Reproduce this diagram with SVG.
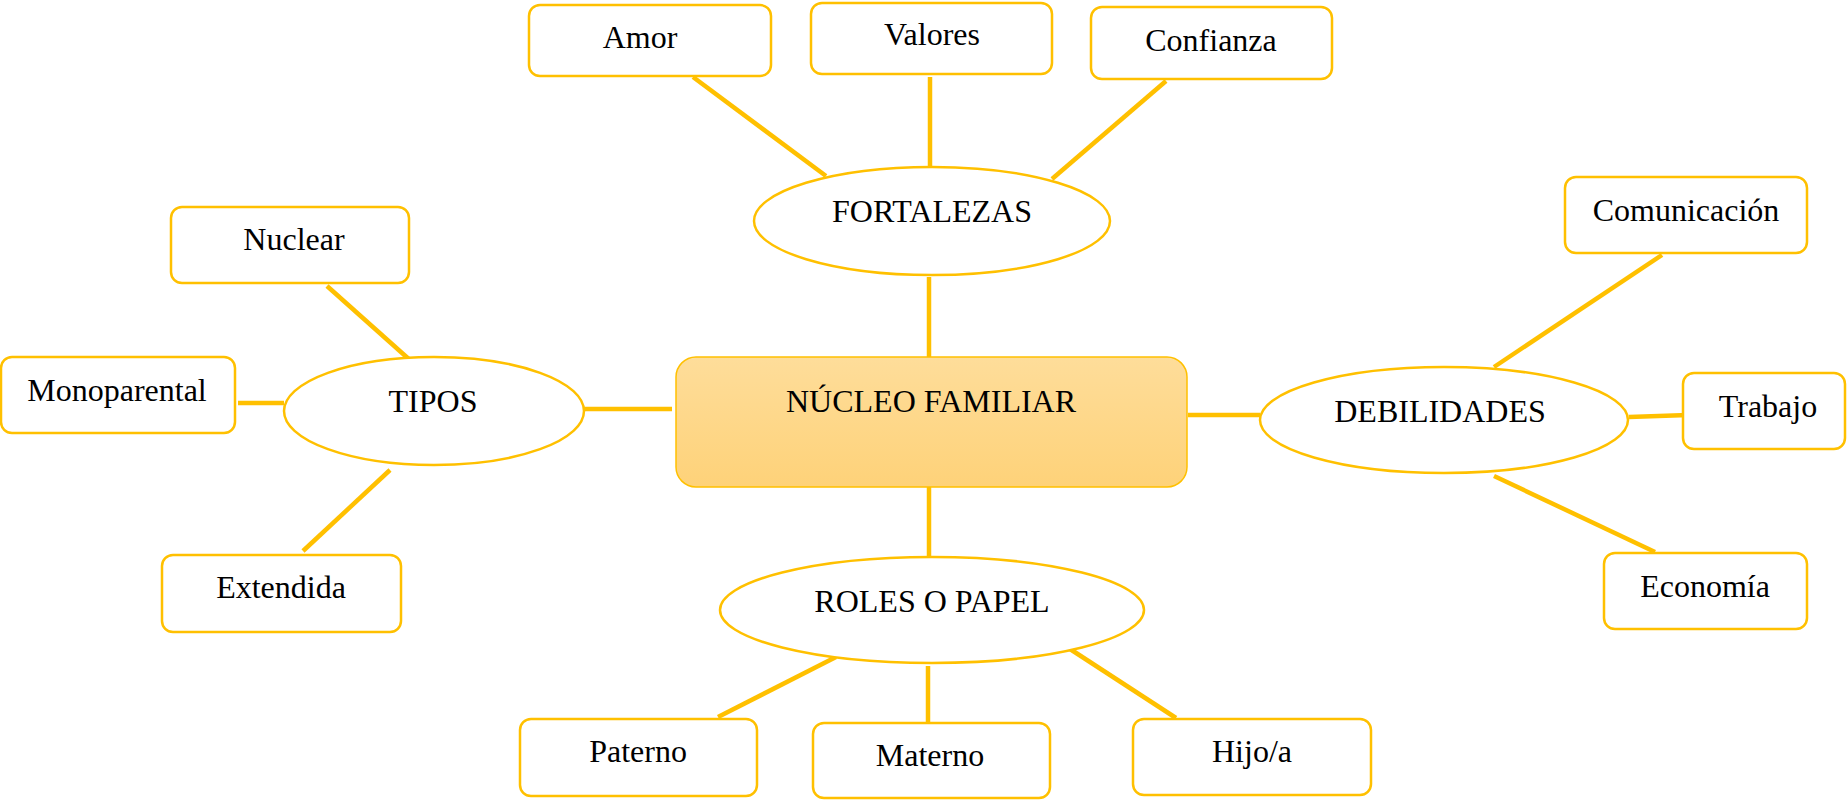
<svg xmlns="http://www.w3.org/2000/svg" width="1847" height="800" viewBox="0 0 1847 800">
<defs>
<linearGradient id="g" x1="0" y1="0" x2="0" y2="1">
<stop offset="0" stop-color="#FEDD9A"/>
<stop offset="1" stop-color="#FED279"/>
</linearGradient>
<style>
.box{fill:#fff;stroke:#FFC000;stroke-width:2.5}
.ell{fill:#fff;stroke:#FFC000;stroke-width:2.5}
.c line{stroke:#FFC000;stroke-width:4.5}
text{font-family:"Liberation Serif","Times New Roman",serif;font-size:32px;fill:#000;text-anchor:middle}
</style>
</defs>
<rect width="1847" height="800" fill="#fff"/>
<g class="c" id="connectors">
<line x1="693" y1="77" x2="826" y2="176"/>
<line x1="930" y1="77" x2="930" y2="167"/>
<line x1="1166" y1="81" x2="1052" y2="179"/>
<line x1="929" y1="277" x2="929" y2="357"/>
<line x1="584" y1="409" x2="672" y2="409"/>
<line x1="1188" y1="415" x2="1260" y2="415"/>
<line x1="929" y1="487" x2="929" y2="557"/>
<line x1="327" y1="286" x2="411" y2="361"/>
<line x1="238" y1="403" x2="284" y2="403"/>
<line x1="390" y1="470" x2="303" y2="551"/>
<line x1="1662" y1="255" x2="1494" y2="367"/>
<line x1="1629" y1="417" x2="1688" y2="415"/>
<line x1="1494" y1="476" x2="1655" y2="552"/>
<line x1="836" y1="657" x2="718" y2="717"/>
<line x1="928" y1="666" x2="928" y2="728"/>
<line x1="1070" y1="649" x2="1176" y2="718"/>
</g>
<g id="center"><rect x="676" y="357" width="511" height="130" rx="20" fill="url(#g)" stroke="#FFC000" stroke-width="1.5"/><text x="931" y="412">NÚCLEO FAMILIAR</text></g>
<g id="fortalezas"><ellipse class="ell" cx="932" cy="221" rx="178" ry="54"/><text x="932" y="222">FORTALEZAS</text></g>
<g id="tipos"><ellipse class="ell" cx="434" cy="411" rx="150" ry="54"/><text x="433" y="412">TIPOS</text></g>
<g id="debilidades"><ellipse class="ell" cx="1444" cy="420" rx="184" ry="53"/><text x="1440" y="422">DEBILIDADES</text></g>
<g id="roles"><ellipse class="ell" cx="932" cy="610" rx="212" ry="53"/><text x="932" y="612">ROLES O PAPEL</text></g>
<g id="amor"><rect class="box" x="529" y="5" width="242" height="71" rx="11"/><text x="640" y="48">Amor</text></g>
<g id="valores"><rect class="box" x="811" y="3" width="241" height="71" rx="11"/><text x="932" y="45">Valores</text></g>
<g id="confianza"><rect class="box" x="1091" y="7" width="241" height="72" rx="11"/><text x="1211" y="51">Confianza</text></g>
<g id="nuclear"><rect class="box" x="171" y="207" width="238" height="76" rx="11"/><text x="294" y="250">Nuclear</text></g>
<g id="monoparental"><rect class="box" x="1" y="357" width="234" height="76" rx="11"/><text x="117" y="401">Monoparental</text></g>
<g id="extendida"><rect class="box" x="162" y="555" width="239" height="77" rx="11"/><text x="281" y="598">Extendida</text></g>
<g id="comunicacion"><rect class="box" x="1565" y="177" width="242" height="76" rx="11"/><text x="1686" y="221">Comunicación</text></g>
<g id="trabajo"><rect class="box" x="1683" y="373" width="162" height="76" rx="11"/><text x="1768" y="417">Trabajo</text></g>
<g id="economia"><rect class="box" x="1604" y="553" width="203" height="76" rx="11"/><text x="1705" y="597">Economía</text></g>
<g id="paterno"><rect class="box" x="520" y="719" width="237" height="77" rx="11"/><text x="638" y="762">Paterno</text></g>
<g id="materno"><rect class="box" x="813" y="723" width="237" height="75" rx="11"/><text x="930" y="766">Materno</text></g>
<g id="hijo"><rect class="box" x="1133" y="719" width="238" height="76" rx="11"/><text x="1252" y="762">Hijo/a</text></g>
</svg>
